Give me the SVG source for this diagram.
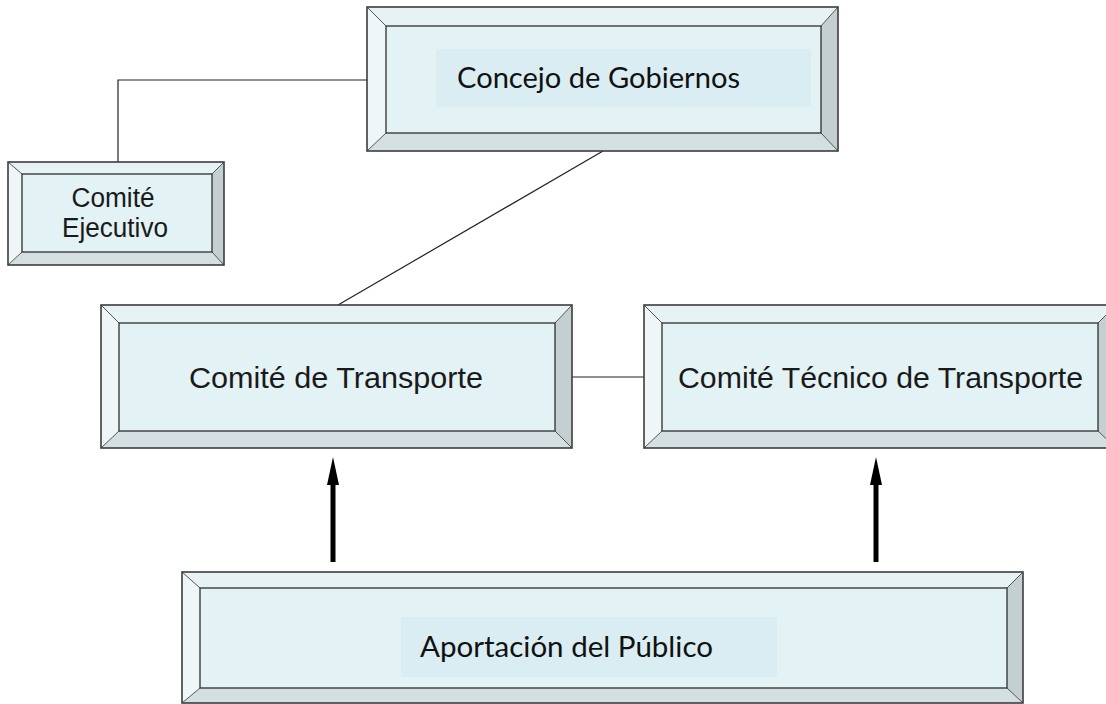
<svg xmlns="http://www.w3.org/2000/svg" width="1106" height="704" viewBox="0 0 1106 704">
<defs>
<style>
.top{fill:#e7f2f4}
.left{fill:#eef6f8}
.bot{fill:#d4dfe1}
.right{fill:#c3cfd1}
.face{fill:#e3f2f4;stroke:#2e2e2e;stroke-width:1.3}
.outer{fill:none;stroke:#3c3c3c;stroke-width:1.6}
.diag{stroke:#555;stroke-width:1}
.hl{fill:#d9edf3}
.conn{fill:none;stroke:#222;stroke-width:1.2}
.arial{font-family:"Liberation Sans",Arial,sans-serif;fill:#1a1a1a}
.cal{font-family:Lato,"Open Sans",sans-serif;fill:#111}
.arrow{fill:#000}
</style>
</defs>
<rect width="1106" height="704" fill="#fff"/>

<g id="connectors">
<polyline class="conn" points="367,80 118,80 118,162"/>
<line class="conn" x1="603" y1="151" x2="338" y2="305"/>
<line class="conn" x1="572" y1="377" x2="644" y2="377"/>
<line x1="333" y1="562" x2="333" y2="482" stroke="#000" stroke-width="5"/>
<path class="arrow" d="M333,457 L339,485 L327,485 Z"/>
<line x1="876" y1="562" x2="876" y2="482" stroke="#000" stroke-width="5"/>
<path class="arrow" d="M876,457 L882,485 L870,485 Z"/>
</g>

<g id="concejo">
<polygon class="top" points="367,7 838,7 821,26 386,26"/>
<polygon class="left" points="367,7 386,26 386,133 367,151"/>
<polygon class="bot" points="367,151 386,133 821,133 838,151"/>
<polygon class="right" points="838,7 838,151 821,133 821,26"/>
<line class="diag" x1="367" y1="7" x2="386" y2="26"/>
<line class="diag" x1="838" y1="7" x2="821" y2="26"/>
<line class="diag" x1="367" y1="151" x2="386" y2="133"/>
<line class="diag" x1="838" y1="151" x2="821" y2="133"/>
<rect class="face" x="386" y="26" width="435" height="107"/>
<rect class="hl" x="436" y="49" width="375" height="58"/>
<rect class="outer" x="367" y="7" width="471" height="144"/>
<text class="cal" x="457" y="88" font-size="28" textLength="283" lengthAdjust="spacingAndGlyphs">Concejo de Gobiernos</text>
</g>

<g id="ejecutivo">
<polygon class="top" points="8,162 224,162 212,174 22,174"/>
<polygon class="left" points="8,162 22,174 22,252 8,265"/>
<polygon class="bot" points="8,265 22,252 212,252 224,265"/>
<polygon class="right" points="224,162 224,265 212,252 212,174"/>
<line class="diag" x1="8" y1="162" x2="22" y2="174"/>
<line class="diag" x1="224" y1="162" x2="212" y2="174"/>
<line class="diag" x1="8" y1="265" x2="22" y2="252"/>
<line class="diag" x1="224" y1="265" x2="212" y2="252"/>
<rect class="face" x="22" y="174" width="190" height="78"/>
<rect class="outer" x="8" y="162" width="216" height="103"/>
<text class="arial" x="113" y="207" font-size="27" text-anchor="middle" textLength="83" lengthAdjust="spacingAndGlyphs">Comité</text>
<text class="arial" x="115" y="237" font-size="27" text-anchor="middle" textLength="106" lengthAdjust="spacingAndGlyphs">Ejecutivo</text>
</g>

<g id="transporte">
<polygon class="top" points="101,305 572,305 555,323 119,323"/>
<polygon class="left" points="101,305 119,323 119,431 101,448"/>
<polygon class="bot" points="101,448 119,431 555,431 572,448"/>
<polygon class="right" points="572,305 572,448 555,431 555,323"/>
<line class="diag" x1="101" y1="305" x2="119" y2="323"/>
<line class="diag" x1="572" y1="305" x2="555" y2="323"/>
<line class="diag" x1="101" y1="448" x2="119" y2="431"/>
<line class="diag" x1="572" y1="448" x2="555" y2="431"/>
<rect class="face" x="119" y="323" width="436" height="108"/>
<rect class="outer" x="101" y="305" width="471" height="143"/>
<text class="arial" x="189" y="388" font-size="29" textLength="294" lengthAdjust="spacingAndGlyphs">Comité  de Transporte</text>
</g>

<g id="tecnico">
<polygon class="top" points="644,305 1116,305 1098,323 662,323"/>
<polygon class="left" points="644,305 662,323 662,431 644,448"/>
<polygon class="bot" points="644,448 662,431 1098,431 1116,448"/>
<polygon class="right" points="1116,305 1116,448 1098,431 1098,323"/>
<line class="diag" x1="644" y1="305" x2="662" y2="323"/>
<line class="diag" x1="1116" y1="305" x2="1098" y2="323"/>
<line class="diag" x1="644" y1="448" x2="662" y2="431"/>
<line class="diag" x1="1116" y1="448" x2="1098" y2="431"/>
<rect class="face" x="662" y="323" width="436" height="108"/>
<rect class="outer" x="644" y="305" width="472" height="143"/>
<text class="arial" x="678" y="388" font-size="29" textLength="405" lengthAdjust="spacingAndGlyphs">Comité Técnico de Transporte</text>
</g>

<g id="publico">
<polygon class="top" points="182,572 1023,572 1007,588 200,588"/>
<polygon class="left" points="182,572 200,588 200,688 182,703"/>
<polygon class="bot" points="182,703 200,688 1007,688 1023,703"/>
<polygon class="right" points="1023,572 1023,703 1007,688 1007,588"/>
<line class="diag" x1="182" y1="572" x2="200" y2="588"/>
<line class="diag" x1="1023" y1="572" x2="1007" y2="588"/>
<line class="diag" x1="182" y1="703" x2="200" y2="688"/>
<line class="diag" x1="1023" y1="703" x2="1007" y2="688"/>
<rect class="face" x="200" y="588" width="807" height="100"/>
<rect class="hl" x="401" y="617" width="376" height="60"/>
<rect class="outer" x="182" y="572" width="841" height="131"/>
<text class="cal" x="420" y="657" font-size="28" textLength="293" lengthAdjust="spacingAndGlyphs">Aportación del Público</text>
</g>
</svg>
